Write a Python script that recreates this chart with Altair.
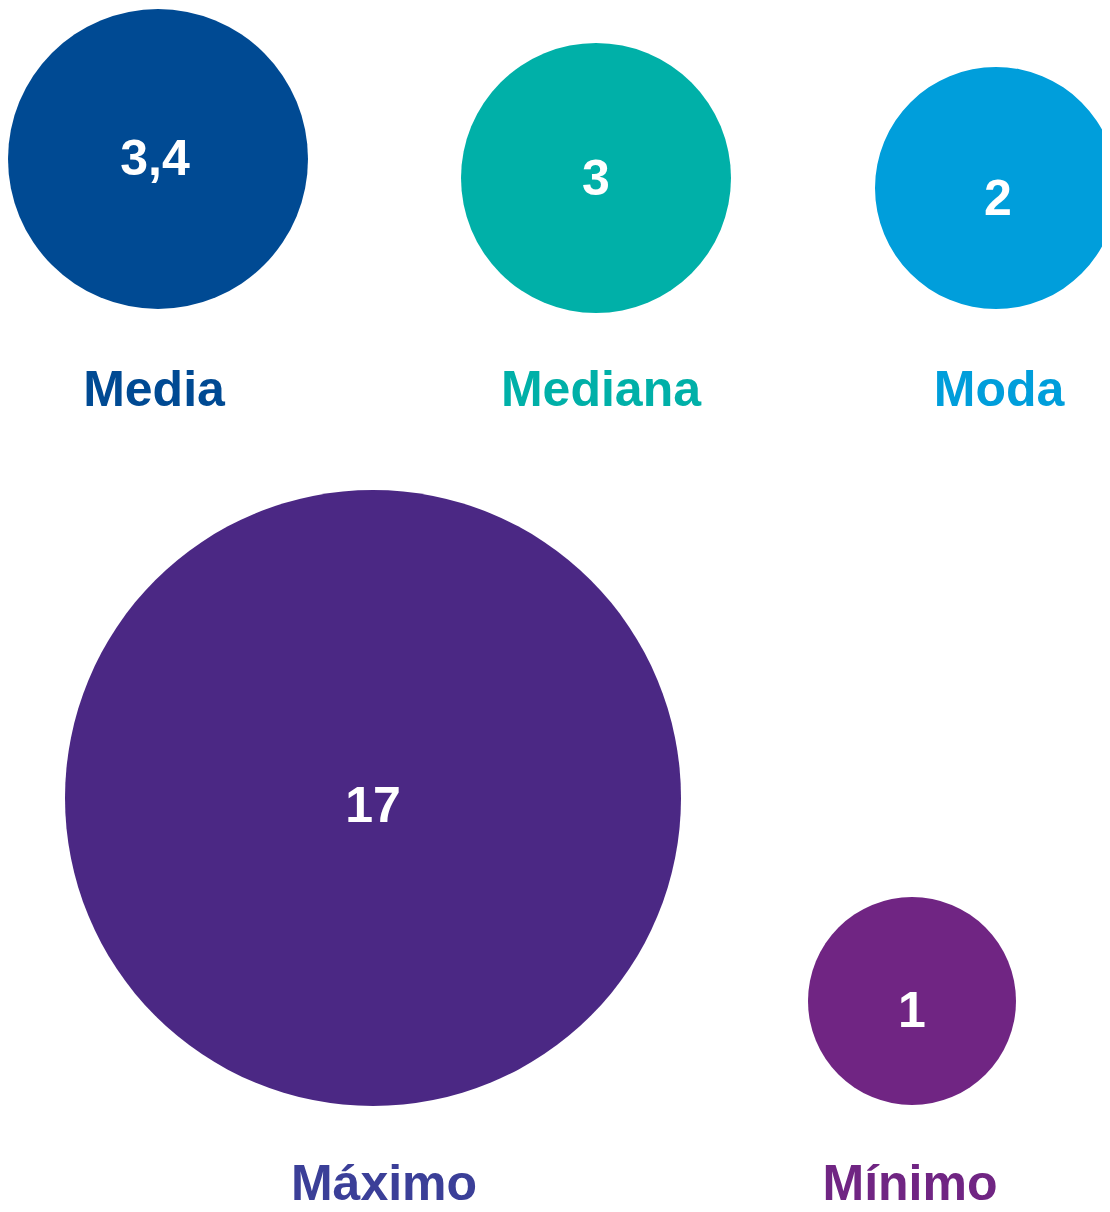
import altair as alt
import pandas as pd

# Datos
categorias = ["Media", "Mediana", "Moda", "Máximo", "Mínimo"]
valores = [3.4, 3, 2, 17, 1]

# Estilo / disposición (no son datos)
colores_circulo = ["#004a93", "#00b0a8", "#009edb", "#4b2884", "#702583"]
colores_etiqueta = ["#004a93", "#00b0a8", "#009edb", "#3b3f98", "#702583"]
x_circulo = [150, 588, 988, 365, 904]
y_circulo = [151, 170, 180, 790, 993]
x_valor = [147, 588, 990, 365, 904]
y_valor = [152, 172, 192, 799, 1004]
x_etiqueta = [146, 593, 991, 376, 902]
y_etiqueta = [383, 383, 383, 1177, 1177]
# diámetro^2 (tamaño de símbolo en Vega) por valor, escala por tramos
dominio_tamano = [1, 2, 3, 3.4, 17]
rango_tamano = [208 ** 2, 242 ** 2, 270 ** 2, 300 ** 2, 616 ** 2]
posiciones = [1, 2, 3, 4, 5]

df = pd.DataFrame({"categoria": categorias, "valor": valores})

FONT = "Liberation Sans"

base = alt.Chart(df).transform_window(
    idx="row_number()"
).transform_calculate(
    texto="replace(toString(datum.valor), '.', ',')"
)


def escala(rango):
    return alt.Scale(domain=posiciones, range=rango, zero=False, nice=False)


circulos = base.mark_circle(opacity=1).encode(
    x=alt.X("idx:Q", scale=escala(x_circulo), axis=None),
    y=alt.Y("idx:Q", scale=escala(y_circulo), axis=None),
    size=alt.Size(
        "valor:Q",
        scale=alt.Scale(domain=dominio_tamano, range=rango_tamano, zero=False),
        legend=None,
    ),
    color=alt.Color(
        "categoria:N",
        scale=alt.Scale(domain=categorias, range=colores_circulo),
        legend=None,
    ),
)

valores_txt = base.mark_text(
    font=FONT, fontSize=50, fontWeight="bold", color="white",
    align="center", baseline="middle",
).encode(
    x=alt.X("idx:Q", scale=escala(x_valor), axis=None),
    y=alt.Y("idx:Q", scale=escala(y_valor), axis=None),
    text="texto:N",
)

etiquetas = base.mark_text(
    font=FONT, fontSize=50, fontWeight="bold",
    align="center", baseline="middle",
).encode(
    x=alt.X("idx:Q", scale=escala(x_etiqueta), axis=None),
    y=alt.Y("idx:Q", scale=escala(y_etiqueta), axis=None),
    text="categoria:N",
    color=alt.Color(
        "categoria:N",
        scale=alt.Scale(domain=categorias, range=colores_etiqueta),
        legend=None,
    ),
)

chart = (
    alt.layer(circulos, valores_txt, etiquetas)
    .resolve_scale(x="independent", y="independent", color="independent")
    .properties(
        width=1094,
        height=1196,
        autosize=alt.AutoSizeParams(type="none"),
        padding=0,
        background="white",
    )
    .configure_view(stroke=None)
)

chart.save("out.html", embed_options={"renderer": "svg", "actions": False})
